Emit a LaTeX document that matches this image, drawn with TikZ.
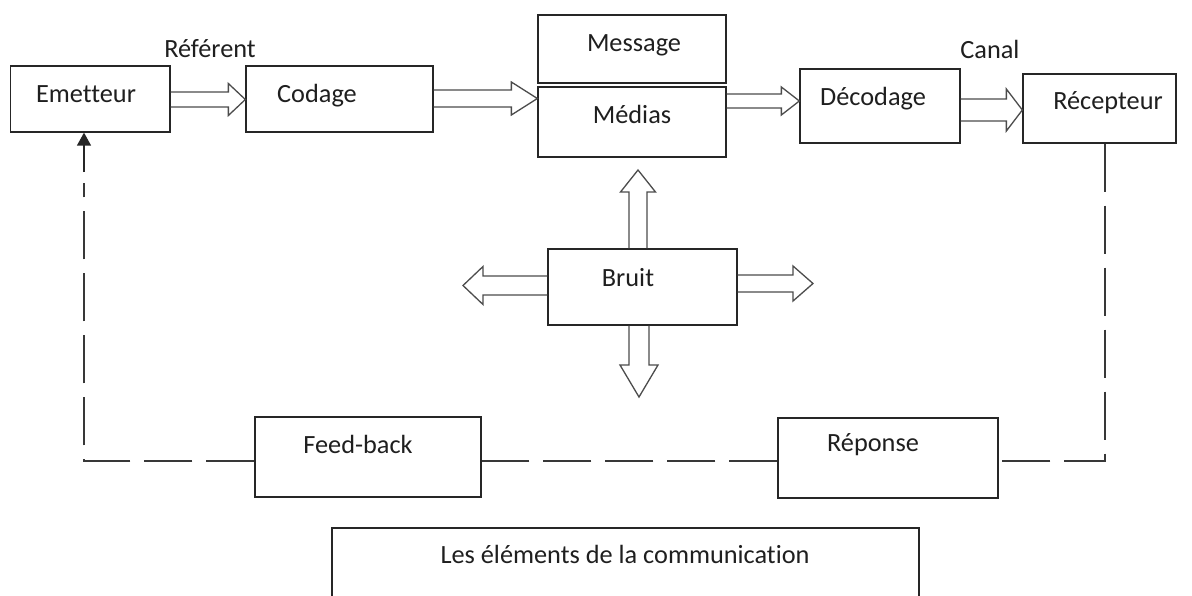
\documentclass[tikz,border=0pt]{standalone}
\usepackage{fontspec}
\setmainfont{Carlito}[Ligatures=NoCommon]
\usetikzlibrary{arrows.meta,calc}
% hollow block arrows: #1 tail anchor, #2 tip anchor/coordinate, #3 centre line, #4 body half-width, #5 head half-width, #6 head length
\newcommand{\hArrRight}[6]{\draw[harrow] let \p1=(#1), \p2=(#2) in
  (\x1,#3-#4) -- (\x2-#6,#3-#4) -- (\x2-#6,#3-#5) -- (\x2,#3) -- (\x2-#6,#3+#5) -- (\x2-#6,#3+#4) -- (\x1,#3+#4);}
\newcommand{\hArrLeft}[6]{\draw[harrow] let \p1=(#1), \p2=(#2) in
  (\x1,#3-#4) -- (\x2+#6,#3-#4) -- (\x2+#6,#3-#5) -- (\x2,#3) -- (\x2+#6,#3+#5) -- (\x2+#6,#3+#4) -- (\x1,#3+#4);}
\newcommand{\hArrUp}[6]{\draw[harrow] let \p1=(#1), \p2=(#2) in
  (#3-#4,\y1) -- (#3-#4,\y2-#6) -- (#3-#5,\y2-#6) -- (#3,\y2) -- (#3+#5,\y2-#6) -- (#3+#4,\y2-#6) -- (#3+#4,\y1);}
\newcommand{\hArrDown}[6]{\draw[harrow] let \p1=(#1), \p2=(#2) in
  (#3-#4,\y1) -- (#3-#4,\y2+#6) -- (#3-#5,\y2+#6) -- (#3,\y2) -- (#3+#5,\y2+#6) -- (#3+#4,\y2+#6) -- (#3+#4,\y1);}
\begin{document}
\begin{tikzpicture}[x=1pt,y=-1pt,
  box/.style={draw=black!85, line width=1.3pt, rectangle, inner sep=0pt},
  txt/.style={inner sep=0pt, text height=16.8pt, text depth=0pt, font=\fontsize{26.3}{31}\selectfont, text=black!88},
  harrow/.style={draw=black!70, line width=1.3pt, line join=miter},
  fbline/.style={draw=black!78, line width=1.4pt, dash pattern=on 48pt off 14pt}]
\path[use as bounding box, fill=white] (0,0) rectangle (1192,595);
\clip (0,0) rectangle (1192,595);

% boxes
\node[box, minimum width=159.3pt, minimum height=66pt] (emet) at (90.3,99) {};
\node[box, minimum width=187pt, minimum height=66pt] (cod) at (339.5,99) {};
\node[box, minimum width=188pt, minimum height=68pt] (msg) at (632,49) {};
\node[box, minimum width=188pt, minimum height=70pt] (med) at (632,122) {};
\node[box, minimum width=160pt, minimum height=74pt] (dec) at (880,106) {};
\node[box, minimum width=153pt, minimum height=69pt] (rec) at (1099.5,108.5) {};
\node[box, minimum width=189pt, minimum height=76pt] (bruit) at (642.5,287) {};
\node[box, minimum width=226pt, minimum height=80pt] (fb) at (368,457) {};
\node[box, minimum width=220pt, minimum height=80pt] (rep) at (888,458) {};
\node[box, minimum width=587pt, minimum height=80pt] (title) at (625.5,568) {};

% texts
\node[txt] (tEmet) at (86,94.5) {Emetteur};
\node[txt] (tCod) at (317,94.5) {Codage};
\node[txt] (tMsg) at (634,43.5) {Message};
\node[txt] (tMed) at (632,115) {Médias};
\node[txt] (tDec) at (873,97) {Décodage};
\node[txt] (tRec) at (1108,101) {Récepteur};
\node[txt] (tBruit) at (628,278) {Bruit};
\node[txt] (tFb) at (358,445) {Feed-back};
\node[txt] (tRep) at (873,443) {Réponse};
\node[txt] (tTitle) at (625,555.5) {Les éléments de la communication};
\node[txt] (tRef) at (210,49.5) {Référent};
\node[txt] (tCanal) at (990,50) {Canal};

% hollow arrows of the main chain
\hArrRight{emet.east}{cod.west}{99.5}{7.5}{16}{17}
\hArrRight{cod.east}{med.west}{98.5}{8.5}{16.5}{26}
\hArrRight{med.east}{dec.west}{101}{7}{14}{18}
\hArrRight{dec.east}{rec.west}{110}{11}{21}{16}

% noise arrows
\coordinate (upTip) at (638,170);
\coordinate (leftTip) at (463,285.5);
\coordinate (rightTip) at (813,283.5);
\coordinate (downTip) at (639,397);
\hArrUp{bruit.north -| upTip}{upTip}{638}{9}{17.5}{22}
\hArrLeft{bruit.west |- leftTip}{leftTip}{285.5}{9.5}{19}{20}
\hArrRight{bruit.east |- rightTip}{rightTip}{283.5}{8.5}{17.5}{20}
\hArrDown{bruit.south -| downTip}{downTip}{639}{10}{19}{32}

% feedback loop
\coordinate (cR) at (1105,461);
\coordinate (cL) at (84,461);
\coordinate (fbB) at (84,183);
\coordinate (fbA) at (84,172);
\draw[fbline] (rec.south -| cR) -- (cR) -- (rep.east |- cR);
\draw[fbline] (rep.west |- cR) -- (fb.east |- cR);
\draw[fbline] (fb.west |- cR) -- (cL) -- (fbB);
\draw[draw=black!85, line width=1.4pt, -{Triangle[length=13pt,width=14pt]}] (fbA) -- (emet.south -| fbA);
\end{tikzpicture}
\end{document}
